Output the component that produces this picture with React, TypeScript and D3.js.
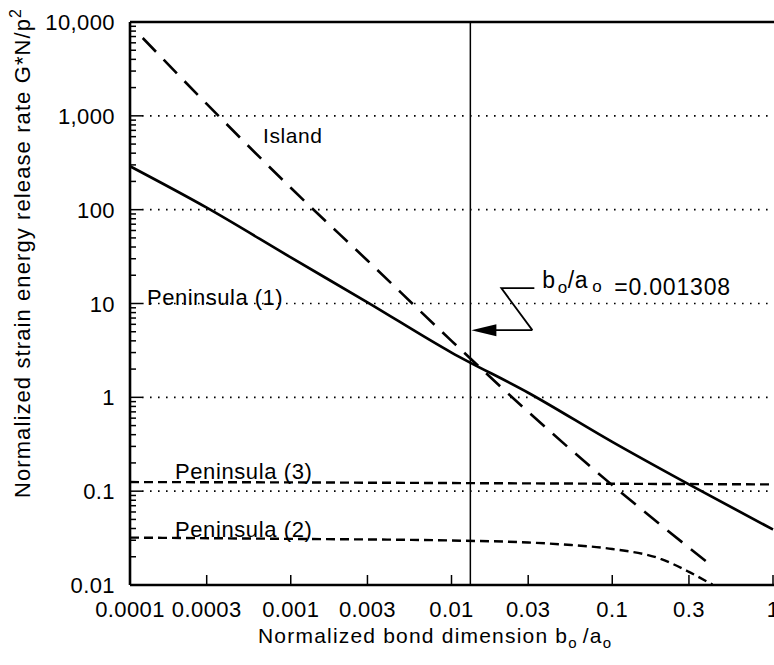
import React from "react";
import * as d3 from "d3";

// chart values
const xTicks = [0.0001, 0.0003, 0.001, 0.003, 0.01, 0.03, 0.1, 0.3, 1];
const xTickLabels = ["0.0001", "0.0003", "0.001", "0.003", "0.01", "0.03", "0.1", "0.3", "1"];
const yTicks = [0.01, 0.1, 1, 10, 100, 1000, 10000];
const yTickLabels = ["0.01", "0.1", "1", "10", "100", "1,000", "10,000"];
const gridValues = [0.1, 1, 10, 100, 1000];

const peninsula1X = [0.0001, 0.0003, 0.001, 0.003, 0.01, 0.03, 0.1, 0.3, 1];
const peninsula1Y = [290, 105, 31, 10.3, 3.0, 1.12, 0.335, 0.118, 0.039];

const islandX = [0.00012, 0.0003, 0.001, 0.003, 0.01, 0.03, 0.1, 0.2, 0.41];
const islandY = [6750, 1340, 171, 28.7, 4.0, 0.7, 0.116, 0.0437, 0.0163];

const peninsula3X = [0.0001, 0.001, 0.01, 0.1, 1];
const peninsula3Y = [0.125, 0.124, 0.122, 0.12, 0.118];

const peninsula2X = [0.0001, 0.001, 0.01, 0.03, 0.05, 0.1, 0.2, 0.3, 0.42];
const peninsula2Y = [0.032, 0.031, 0.0298, 0.0284, 0.027, 0.0242, 0.019, 0.0138, 0.0101];

const bondRatio = 0.0131; // where the vertical marker sits
const arrowValue = 5.2;

const W = 774;
const H = 665;
const font = "'Liberation Sans', Arial, Helvetica, sans-serif";

function App() {
  const x = d3.scaleLog().domain([0.0001, 1]).range([130, 773]);
  const y = d3.scaleLog().domain([0.01, 10000]).range([585, 22]);

  const line = d3
    .line<[number, number]>()
    .x((d) => x(d[0]))
    .y((d) => y(d[1]))
    .curve(d3.curveMonotoneX);

  const zip = (xs: number[], ys: number[]) => xs.map((v, i) => [v, ys[i]] as [number, number]);

  const left = x.range()[0];
  const bottom = y.range()[0];
  const top = y.range()[1];

  // minor ticks on y (2..9 per decade)
  const yMinor = y.ticks().filter((v) => !yTicks.includes(v));

  const bx = x(bondRatio);
  const ay = y(arrowValue);

  return (
    <svg
      width={W}
      height={H}
      style={{ position: "absolute", left: 0, top: 0, background: "#fff" }}
      fontFamily={font}
    >
      <rect width={W} height={H} fill="#fff" />

      {/* dotted grid */}
      {gridValues.map((v) => (
        <line
          key={"g" + v}
          x1={left + 12}
          x2={W}
          y1={y(v)}
          y2={y(v)}
          stroke="#000"
          strokeWidth={1.6}
          strokeDasharray="1.6,6.4"
        />
      ))}

      {/* y ticks */}
      {yTicks.map((v) => (
        <line key={"yt" + v} x1={left} x2={left + 12} y1={y(v)} y2={y(v)} stroke="#000" strokeWidth={1.5} />
      ))}
      {yMinor.map((v) => (
        <line key={"ym" + v} x1={left} x2={left + 6} y1={y(v)} y2={y(v)} stroke="#000" strokeWidth={1.5} />
      ))}
      {yTicks.map((v, i) => (
        <text key={"yl" + v} x={115} y={y(v) + 8} textAnchor="end" fontSize={22} letterSpacing={0.4}>
          {yTickLabels[i]}
        </text>
      ))}

      {/* x ticks */}
      {xTicks.map((v) => (
        <line key={"xt" + v} x1={x(v)} x2={x(v)} y1={bottom} y2={bottom - 10} stroke="#000" strokeWidth={1.5} />
      ))}
      {xTicks.map((v, i) => (
        <text key={"xl" + v} x={x(v)} y={617} textAnchor="middle" fontSize={22} letterSpacing={0.4}>
          {xTickLabels[i]}
        </text>
      ))}

      {/* frame */}
      <line x1={left} x2={W} y1={top} y2={top} stroke="#000" strokeWidth={2.6} />
      <line x1={left} x2={W} y1={bottom} y2={bottom} stroke="#000" strokeWidth={2.6} />
      <line x1={left} x2={left} y1={top} y2={bottom} stroke="#000" strokeWidth={2.6} />

      {/* bond marker */}
      <line x1={bx} x2={bx} y1={top} y2={bottom} stroke="#000" strokeWidth={1.5} />

      {/* curves */}
      <path d={line(zip(peninsula1X, peninsula1Y)) || ""} fill="none" stroke="#000" strokeWidth={2.7} />
      <path
        d={line(zip(islandX, islandY)) || ""}
        fill="none"
        stroke="#000"
        strokeWidth={2.6}
        strokeDasharray="19,11"
      />
      <path
        d={line(zip(peninsula3X, peninsula3Y)) || ""}
        fill="none"
        stroke="#000"
        strokeWidth={2.4}
        strokeDasharray="9,5"
      />
      <path
        d={line(zip(peninsula2X, peninsula2Y)) || ""}
        fill="none"
        stroke="#000"
        strokeWidth={2.4}
        strokeDasharray="9,5"
      />

      {/* curve labels */}
      <text x={263} y={143} fontSize={21} letterSpacing={0.6}>Island</text>
      <text x={147} y={305} fontSize={22} letterSpacing={0.5}>Peninsula (1)</text>
      <text x={175} y={479} fontSize={22} letterSpacing={0.6}>Peninsula (3)</text>
      <text x={175} y={537} fontSize={22} letterSpacing={0.6}>Peninsula (2)</text>

      {/* annotation arrow */}
      <path
        d={`M${bx + 62},${ay} L${bx + 24},${ay}`}
        stroke="#000"
        strokeWidth={1.8}
        fill="none"
      />
      <path d={`M${bx + 1},${ay} L${bx + 26},${ay - 6} L${bx + 26},${ay + 6} Z`} fill="#000" />
      <path
        d={`M${bx + 62},${ay} L${bx + 31},${ay - 42} L${bx + 64},${ay - 42}`}
        stroke="#000"
        strokeWidth={1.8}
        fill="none"
      />
      <text x={bx + 72} y={ay - 42} fontSize={23} letterSpacing={0.6}>
        b
        <tspan fontSize={17} dx={2} dy={5}>o</tspan>
        <tspan dy={-5}>/a</tspan>
        <tspan fontSize={17} dx={4} dy={4}>o</tspan>
        <tspan dx={12} dy={3} letterSpacing={0.8}>=0.001308</tspan>
      </text>

      {/* axis titles */}
      <text x={258} y={643} fontSize={21} letterSpacing={1.2}>
        Normalized bond dimension b
        <tspan fontSize={15} dy={5}>o</tspan>
        <tspan dx={5} dy={-5}>/a</tspan>
        <tspan fontSize={15} dy={5}>o</tspan>
      </text>
      <text
        transform={`translate(30,${(500 + 6) / 2}) rotate(-90)`}
        textAnchor="middle"
        fontSize={22}
        letterSpacing={1.1}
      >
        Normalized strain energy release rate G*N/p
        <tspan fontSize={16} dy={-9}>2</tspan>
      </text>
    </svg>
  );
}

export default App;
